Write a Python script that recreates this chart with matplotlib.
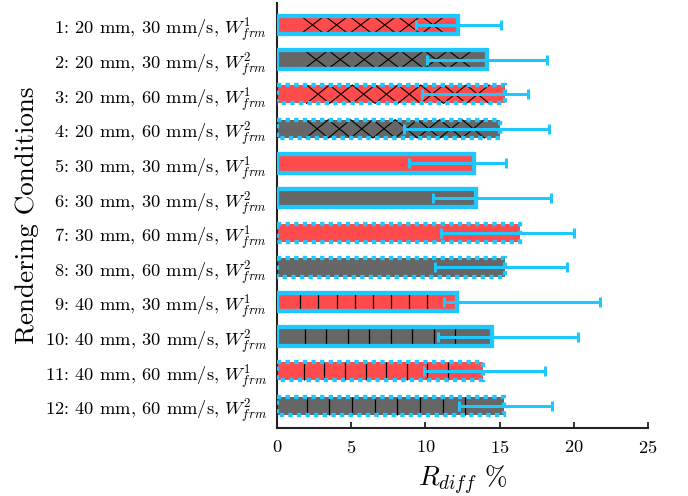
import matplotlib
matplotlib.use('Agg')
import matplotlib.pyplot as plt
import numpy as np

plt.rcParams['font.family'] = ['cmr10', 'DejaVu Serif']
plt.rcParams['mathtext.fontset'] = 'cm'
plt.rcParams['axes.formatter.use_mathtext'] = True

# ---- data ----
cond_ids = list(range(1, 13))
diameters = [20, 20, 20, 20, 30, 30, 30, 30, 40, 40, 40, 40]
speeds = [30, 30, 60, 60, 30, 30, 60, 60, 30, 30, 60, 60]
weights = [1, 2, 1, 2, 1, 2, 1, 2, 1, 2, 1, 2]
values = [12.18, 14.14, 15.37, 15.03, 13.30, 13.44, 16.38, 15.37, 12.16, 14.49, 13.88, 15.30]
err_low = [9.36, 10.12, 9.74, 8.53, 8.91, 10.53, 11.02, 10.66, 11.23, 10.82, 9.90, 12.26]
err_high = [15.07, 18.22, 16.90, 18.35, 15.41, 18.47, 20.02, 19.53, 21.78, 20.27, 18.08, 18.54]
hatch_kind = ['x', 'x', 'x', 'x', '', '', '', '', '|', '|', '|', '|']
xticks = [0, 5, 10, 15, 20, 25]

labels = [f"{i}: {d} mm, {s} mm/s, $W^{{{w}}}_{{frm}}$"
          for i, d, s, w in zip(cond_ids, diameters, speeds, weights)]

# ---- style ----
cyan = '#1ec8ff'
face_col = {1: '#ff4b4b', 2: '#666666'}
h = 0.53

fig = plt.figure(figsize=(6.88, 4.96), dpi=100)
ax = fig.add_axes([0.4026, 0.1371, 0.9419 - 0.4026, 0.9944 - 0.1371])

y = np.array(cond_ids, dtype=float)
vals = np.array(values)
faces = [face_col[w] for w in weights]

ax.barh(y, vals, height=h, color=faces, edgecolor='none', zorder=2)

# custom hatching
for yi, L, kind in zip(y, vals, hatch_kind):
    top, bot = yi - h / 2, yi + h / 2
    if kind == 'x':
        x0, x1 = 0.13 * L, 0.93 * L
        n = max(1, int(round((x1 - x0) / 1.55)))
        edges = np.linspace(x0, x1, n + 1)
        ya = [top if k % 2 == 0 else bot for k in range(n + 1)]
        yb = [bot if k % 2 == 0 else top for k in range(n + 1)]
        ax.plot(edges, ya, color='black', lw=0.8, zorder=3)
        ax.plot(edges, yb, color='black', lw=0.8, zorder=3)
    elif kind == '|':
        xs = L * (0.13 + 0.1 * np.arange(8))
        ax.vlines(xs, top, bot, color='black', lw=0.9, zorder=3)

edges_c = ax.barh(y, vals, height=h, facecolor='none', edgecolor=cyan,
                  linewidth=3.1, zorder=4)
for p, s in zip(edges_c.patches, speeds):
    if s == 60:
        p.set_linestyle((0, (1, 1)))

lo = vals - np.array(err_low)
hi = np.array(err_high) - vals
ax.errorbar(vals, y, xerr=[lo, hi], fmt='none', ecolor=cyan, elinewidth=2.2,
            capsize=3.4, capthick=2.2, zorder=5)

ax.set_xlim(0, 25)
ax.set_ylim(12.64, 0.36)
ax.set_xticks(xticks)
ax.set_yticks(y)
ax.set_yticklabels(labels)
ax.spines['top'].set_visible(False)
ax.spines['right'].set_visible(False)
for s in ('left', 'bottom'):
    ax.spines[s].set_linewidth(1.5)
    ax.spines[s].set_color('#222222')
ax.tick_params(axis='x', direction='in', length=4, width=1.3, labelsize=13.2, pad=8, color='#222222')
ax.tick_params(axis='y', length=0, labelsize=13.3, pad=7)

xl = ax.set_xlabel(r'$R_{diff}$ %', fontsize=19.5)
xl.set_verticalalignment('top')
ax.xaxis.set_label_coords(0.5, (428 - 464) / 425.2)
yl = ax.set_ylabel('Rendering Conditions', fontsize=19.5)
yl.set_verticalalignment('center')
ax.yaxis.set_label_coords((27 - 277) / 371.0, 0.5)

fig.savefig('out.png', dpi=100)
